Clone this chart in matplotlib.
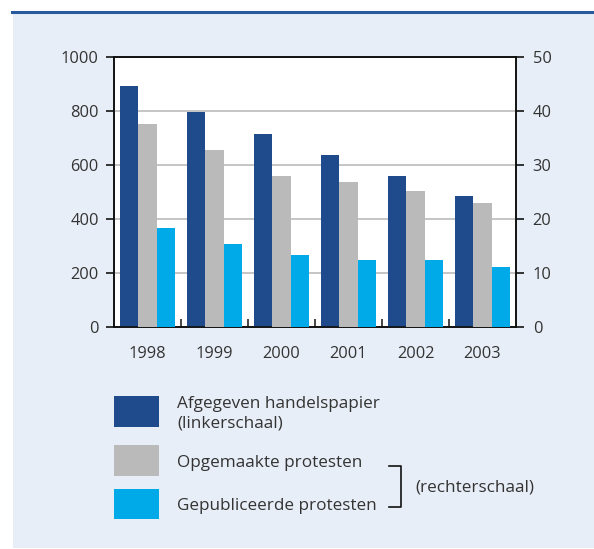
import matplotlib.pyplot as plt
import numpy as np
from matplotlib.patches import Rectangle
from matplotlib.lines import Line2D

plt.rcParams['font.family'] = ['Open Sans', 'DejaVu Sans']

years = ['1998', '1999', '2000', '2001', '2002', '2003']
handelspapier = [893, 795, 715, 638, 559, 484]      # linkerschaal
opgemaakt = [37.6, 32.8, 28.0, 26.9, 25.1, 22.9]    # rechterschaal
gepubliceerd = [18.3, 15.4, 13.3, 12.4, 12.4, 11.2]  # rechterschaal

c_dark = '#1f4a8c'
c_gray = '#bababa'
c_cyan = '#00aae9'
bg = '#e8eef7'
txt = '#333333'
W, H = 594, 549

fig = plt.figure(figsize=(W / 100, H / 100), dpi=100)
fig.patch.set_facecolor('white')

def fx(px):
    return px / W

def fy(py):
    return 1 - py / H

# panel and top rule
fig.add_artist(Rectangle((fx(13), fy(548)), fx(594) - fx(13), fy(12) - fy(548),
                         transform=fig.transFigure, facecolor=bg, edgecolor='none', zorder=0))
fig.add_artist(Line2D([fx(12), 1], [fy(12), fy(12)], transform=fig.transFigure,
                      color='#2a5a9e', lw=2.2, zorder=1))

ax = fig.add_axes([fx(114), fy(327), fx(516) - fx(114), fy(57) - fy(327)])
ax.set_facecolor('white')
ax2 = ax.twinx()

x = np.arange(len(years))
w = 0.27
ax.bar(x - w, handelspapier, w, color=c_dark, zorder=3)
ax2.bar(x, opgemaakt, w, color=c_gray, zorder=3)
ax2.bar(x + w, gepubliceerd, w, color=c_cyan, zorder=3)

ax.set_xlim(-0.5, len(years) - 0.5)
ax.set_ylim(0, 1000)
ax2.set_ylim(0, 50)
ax.set_yticks(range(0, 1001, 200))
ax2.set_yticks(range(0, 51, 10))
ax.yaxis.grid(True, color='#b5b5b5', lw=1.1, zorder=0)
ax.set_axisbelow(True)

ax.set_xticks(x)
ax.set_xticklabels(years)
ax.set_xticks(np.arange(0.5, len(years) - 1, 1), minor=True)
ax.tick_params(axis='x', which='major', length=0, pad=14, labelsize=11.8, labelcolor=txt)
ax.tick_params(axis='x', which='minor', direction='in', length=6, width=1.4, color='#444444')
ax.tick_params(axis='y', length=6, width=1.1, pad=5, labelsize=11.8, labelcolor=txt)
ax2.tick_params(axis='y', length=6, width=1.1, pad=6, labelsize=11.8, labelcolor=txt)

for a in (ax, ax2):
    for s in a.spines.values():
        s.set_color('#111111')
        s.set_linewidth(1.2)

# legend
items = [(c_dark, 396, 427), (c_gray, 445, 476), (c_cyan, 489, 519)]
for col, top, bot in items:
    fig.add_artist(Rectangle((fx(114), fy(bot)), fx(159) - fx(114), fy(top) - fy(bot),
                             transform=fig.transFigure, facecolor=col, edgecolor='none'))

fs = 12.3
fig.text(fx(177), fy(404), 'Afgegeven handelspapier', fontsize=fs, color=txt, va='center')
fig.text(fx(177), fy(423), '(linkerschaal)', fontsize=fs, color=txt, va='center')
fig.text(fx(177), fy(463), 'Opgemaakte protesten', fontsize=fs, color=txt, va='center')
fig.text(fx(177), fy(506), 'Gepubliceerde protesten', fontsize=fs, color=txt, va='center')
fig.text(fx(415), fy(487), '(rechterschaal)', fontsize=fs, color=txt, va='center')

fig.add_artist(Line2D([fx(389), fx(401), fx(401), fx(389)],
                      [fy(466), fy(466), fy(507), fy(507)],
                      transform=fig.transFigure, color='#111111', lw=1.2))

fig.savefig('out.png', dpi=100)
